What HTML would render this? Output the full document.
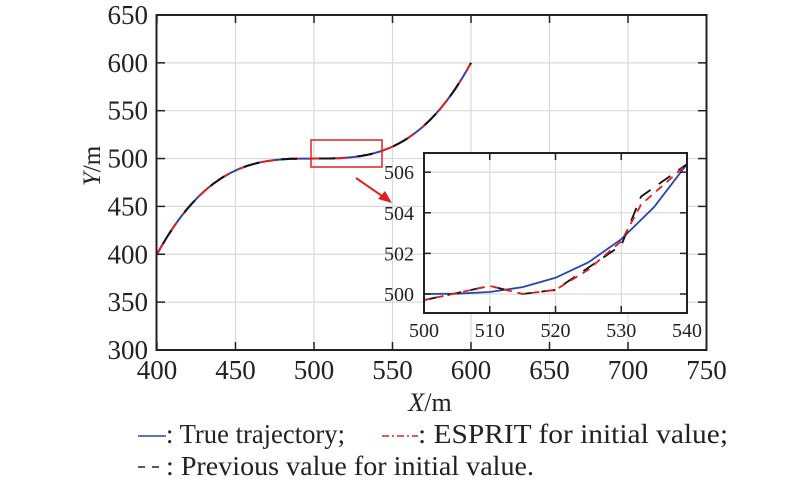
<!DOCTYPE html>
<html><head><meta charset="utf-8"><style>
body{margin:0;background:#fff;}
svg{display:block;font-family:"Liberation Serif",serif;}
</style></head><body>
<svg id="s" width="800" height="483" viewBox="0 0 800 483" xmlns="http://www.w3.org/2000/svg">
<g id="grid" stroke="#d9d9d9" stroke-width="1.2"></g>
<g id="main" fill="none"></g>
<rect x="156.5" y="15" width="550" height="335" fill="none" stroke="#222" stroke-width="2"/>
<g id="ticks" stroke="#222" stroke-width="1.5"></g>
<g id="labels" font-size="27" fill="#222"></g>
<rect x="311" y="140" width="71" height="27" fill="none" stroke="#e02020" stroke-width="1.5"/>
<line x1="356" y1="178" x2="385" y2="198" stroke="#e02020" stroke-width="2"/>
<polygon points="392,203 378,199 385,191" fill="#e02020"/>
<rect x="424" y="153" width="263" height="160" fill="#fff"/>
<g id="igrid" stroke="#d9d9d9" stroke-width="1.2"></g>
<g id="inset" fill="none"></g>
<rect x="424" y="153" width="263" height="160" fill="none" stroke="#222" stroke-width="2"/>
<g id="iticks" stroke="#222" stroke-width="1.5"></g>
<g id="ilabels" font-size="20" fill="#222"></g>
<text x="430" y="411" font-size="26" text-anchor="middle" fill="#222"><tspan font-style="italic">X</tspan>/m</text>
<text transform="translate(100,166) rotate(-90)" font-size="25" text-anchor="middle" fill="#222"><tspan font-style="italic">Y</tspan>/m</text>
<line x1="138" y1="436" x2="166" y2="436" stroke="#2a44b0" stroke-width="1.5"/>
<text x="166" y="443" font-size="27" fill="#222" textLength="179" lengthAdjust="spacingAndGlyphs">: True trajectory;</text>
<line x1="382" y1="436" x2="418" y2="436" stroke="#e02020" stroke-width="1.5" stroke-dasharray="7,3,2,3"/>
<text x="418" y="443" font-size="27" fill="#222" textLength="310" lengthAdjust="spacingAndGlyphs">: ESPRIT for initial value;</text>
<line x1="138" y1="467" x2="164" y2="467" stroke="#222" stroke-width="1.5" stroke-dasharray="7,7"/>
<text x="166" y="475" font-size="27" fill="#222" textLength="368" lengthAdjust="spacingAndGlyphs">: Previous value for initial value.</text>
</svg>
<script>
const NS="http://www.w3.org/2000/svg";
function el(p,t,a,txt){const e=document.createElementNS(NS,t);for(const k in a)e.setAttribute(k,a[k]);if(txt!==undefined)e.textContent=txt;document.getElementById(p).appendChild(e);return e;}
const mx=x=>157+(x-400)*1.57, my=y=>15+(650-y)*0.957;
for(let x=450;x<=700;x+=50)el("grid","line",{x1:mx(x),x2:mx(x),y1:15,y2:350});
for(let y=350;y<=600;y+=50)el("grid","line",{x1:157,x2:706,y1:my(y),y2:my(y)});
for(let x=400;x<=750;x+=50){el("ticks","line",{x1:mx(x),x2:mx(x),y1:350,y2:342});el("ticks","line",{x1:mx(x),x2:mx(x),y1:15,y2:23});el("labels","text",{x:mx(x),y:379,"text-anchor":"middle"},x);}
for(let y=300;y<=650;y+=50){el("ticks","line",{x1:157,x2:165,y1:my(y),y2:my(y)});el("ticks","line",{x1:706,x2:698,y1:my(y),y2:my(y)});el("labels","text",{x:148,y:my(y)+9,"text-anchor":"end"},y);}
let d="";for(let x=400;x<=600;x+=2){const y=500+Math.pow(x-500,3)/10000;d+=(x==400?"M":"L")+mx(x).toFixed(1)+","+my(y).toFixed(1);}
el("main","path",{d:d,stroke:"#2a44b0","stroke-width":2});
el("main","path",{d:d,stroke:"#e02020","stroke-width":2,"stroke-dasharray":"14,10"});
el("main","path",{d:d,stroke:"#111","stroke-width":2,"stroke-dasharray":"16,22","stroke-dashoffset":"-12"});
const ix=x=>424+(x-500)*263/40, iy=y=>294-(y-500)*20.3;
for(let x=510;x<=530;x+=10)el("igrid","line",{x1:ix(x),x2:ix(x),y1:153,y2:313});
for(let y=500;y<=506;y+=2)el("igrid","line",{x1:424,x2:687,y1:iy(y),y2:iy(y)});
for(let x=500;x<=540;x+=10){el("iticks","line",{x1:ix(x),x2:ix(x),y1:313,y2:306});el("iticks","line",{x1:ix(x),x2:ix(x),y1:153,y2:160});el("ilabels","text",{x:ix(x),y:337,"text-anchor":"middle"},x);}
for(let y=500;y<=506;y+=2){el("iticks","line",{x1:424,x2:431,y1:iy(y),y2:iy(y)});el("iticks","line",{x1:687,x2:680,y1:iy(y),y2:iy(y)});el("ilabels","text",{x:414,y:iy(y)+7,"text-anchor":"end"},y);}
let b="";for(let x=500;x<=540;x+=5){const y=500+Math.pow(x-500,3)/10000;b+=(x==500?"M":"L")+ix(x).toFixed(1)+","+iy(y).toFixed(1);}
el("inset","path",{d:b,stroke:"#2a44b0","stroke-width":1.8});
const bk=[[500,499.7],[510,500.4],[515,500],[520,500.2],[525,501.3],[530,502.4],[533,504.8],[540,506.4]];
const rd=[[500,499.7],[510,500.4],[515,500],[520,500.2],[525,501.2],[530,502.6],[533,504.4],[540,506.4]];
const P=a=>a.map((p,i)=>(i?"L":"M")+ix(p[0]).toFixed(1)+","+iy(p[1]).toFixed(1)).join("");
el("inset","path",{d:P(bk),stroke:"#111","stroke-width":1.8,"stroke-dasharray":"14,10"});
el("inset","path",{d:P(rd),stroke:"#e02020","stroke-width":1.8,"stroke-dasharray":"8,6","stroke-dashoffset":"-12"});
</script>
</body></html>
